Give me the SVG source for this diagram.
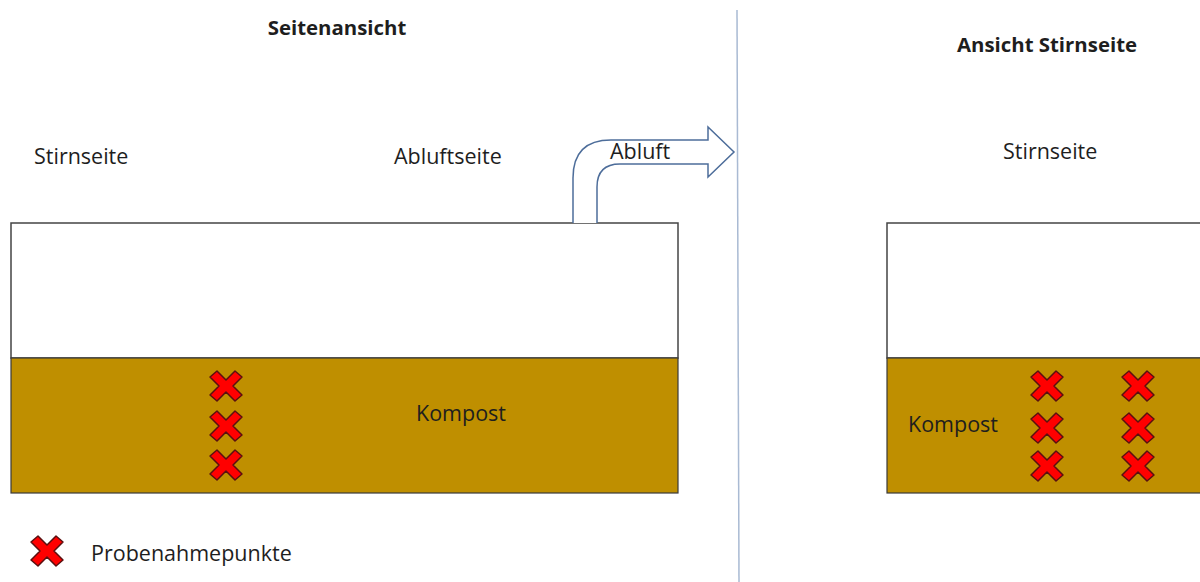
<svg xmlns="http://www.w3.org/2000/svg" xmlns:xlink="http://www.w3.org/1999/xlink" width="1200" height="582" viewBox="0 0 1200 582">
<style>
text{font-family:"Open Sans","Noto Sans",sans-serif;fill:#1e1e1e;font-size:21.5px}
.title{font-weight:bold;font-size:20.4px;text-anchor:middle}
.box{fill:#fff;stroke:#444;stroke-width:1.5}
.comp{fill:#BF8F00;stroke:#3a3a3a;stroke-width:1.2}
.arrow{fill:#fff;stroke:#4d6d9a;stroke-width:1.5}
</style>
<defs>
<path id="x" d="M-16,-9 L-9,-15 L0,-6 L9,-15 L16,-9 L7,0 L16,9 L9,15 L0,6 L-9,15 L-16,9 L-7,0 Z" fill="#ff0000" stroke="#5a1010" stroke-width="1.5" stroke-linejoin="round"/>
</defs>
<rect width="1200" height="582" fill="#fff"/>
<line x1="737" y1="10" x2="739" y2="582" stroke="#a9bad3" stroke-width="1.5"/>
<text class="title" x="337" y="35">Seitenansicht</text>
<text class="title" x="1047" y="52">Ansicht Stirnseite</text>
<g id="left-view">
<rect class="box" x="11" y="223" width="667" height="135"/>
<rect class="comp" x="11" y="358" width="667" height="135"/>
<text x="34" y="164">Stirnseite</text>
<text x="394" y="164">Abluftseite</text>
<text x="416" y="421">Kompost</text>
<use href="#x" x="226" y="386"/>
<use href="#x" x="226" y="426"/>
<use href="#x" x="226" y="465"/>
</g>
<g id="connectors">
<path class="arrow" d="M573,223 L573,178 Q573,140 611,140 L708,140 L708,127 L734,152 L708,177 L708,164 L620,164 Q597,164 597,187 L597,223"/>
<text x="610" y="159">Abluft</text>
</g>
<g id="right-view">
<rect class="box" x="887" y="223" width="330" height="135"/>
<rect class="comp" x="887" y="358" width="330" height="135"/>
<text x="1003" y="159">Stirnseite</text>
<text x="908" y="432">Kompost</text>
<use href="#x" x="1047" y="386"/>
<use href="#x" x="1047" y="428"/>
<use href="#x" x="1047" y="466"/>
<use href="#x" x="1138" y="386"/>
<use href="#x" x="1138" y="428"/>
<use href="#x" x="1138" y="466"/>
</g>
<g id="legend">
<use href="#x" x="47" y="551"/>
<text x="91" y="561">Probenahmepunkte</text>
</g>
</svg>
